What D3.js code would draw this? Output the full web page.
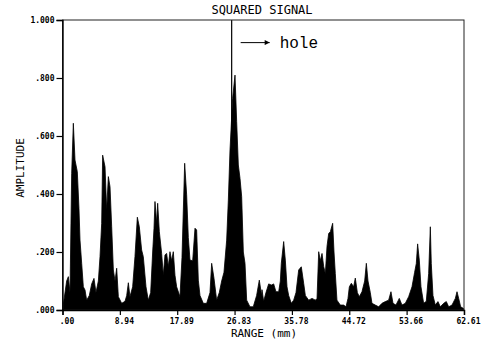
<!DOCTYPE html>
<html>
<head>
<meta charset="utf-8">
<script src="https://cdn.jsdelivr.net/npm/d3@7"></script>
<style>
  body { margin: 0; background: #fff; }
</style>
</head>
<body>
<div id="chart"></div>
<script>
var range = [0.13, 0.65, 0.91, 1.17, 1.43, 1.69, 1.95, 2.31, 2.57, 2.73, 2.99, 3.25, 3.51, 3.77, 4.18, 4.55,
    4.91, 5.22, 5.59, 5.85, 6.11, 6.26, 6.63, 6.89, 7.15, 7.41, 7.67, 7.93, 8.19, 8.45, 8.71, 9.23,
    9.75, 10.01, 10.27, 10.52, 10.94, 11.30, 11.67, 11.98, 12.34, 12.60, 13.02, 13.38, 13.75, 14.06, 14.27, 14.42,
    14.68, 14.84, 15.10, 15.46, 15.72, 15.98, 16.24, 16.50, 16.76, 17.02, 17.28, 17.54, 17.80, 18.32, 18.63, 19.05,
    19.36, 19.62, 19.88, 20.30, 20.66, 20.92, 21.18, 21.44, 21.96, 22.48, 23.00, 23.26, 23.62, 24.04, 24.45, 24.82,
    25.18, 25.60, 25.86, 26.12, 26.53, 26.90, 27.16, 27.42, 27.68, 27.94, 28.20, 28.46, 28.72, 29.23, 29.75, 30.27,
    30.69, 31.05, 31.11, 31.37, 31.73, 32.15, 32.57, 32.93, 33.29, 33.71, 33.97, 34.12, 34.49, 34.75, 35.01, 35.27,
    35.68, 36.05, 36.41, 36.83, 37.24, 37.61, 37.87, 38.39, 38.91, 39.43, 39.69, 39.95, 40.21, 40.47, 40.73, 40.99,
    41.25, 41.51, 41.77, 42.13, 42.34, 42.54, 42.80, 43.32, 43.84, 44.21, 44.52, 44.73, 45.04, 45.40, 45.66, 45.98,
    46.29, 46.70, 47.12, 47.38, 47.64, 48.00, 48.26, 48.78, 49.30, 49.82, 50.34, 50.86, 51.22, 51.54, 52.00, 52.52,
    52.94, 53.46, 53.98, 54.50, 54.91, 55.17, 55.38, 55.64, 55.90, 56.32, 56.73, 57.10, 57.36, 57.51, 57.77, 58.14,
    58.55, 58.92, 59.44, 59.85, 60.22, 60.74, 61.26, 61.52, 61.78, 62.09, 62.55];

var amplitude = [0.02, 0.10, 0.115, 0.06, 0.47, 0.644, 0.517, 0.477, 0.35, 0.241, 0.161, 0.080, 0.069, 0.034, 0.05, 0.09,
    0.109, 0.06, 0.10, 0.184, 0.299, 0.534, 0.494, 0.345, 0.460, 0.425, 0.287, 0.138, 0.10, 0.144, 0.046, 0.023,
    0.03, 0.05, 0.094, 0.046, 0.08, 0.184, 0.320, 0.287, 0.207, 0.184, 0.08, 0.034, 0.06, 0.20, 0.282, 0.374,
    0.30, 0.368, 0.270, 0.195, 0.12, 0.190, 0.195, 0.15, 0.201, 0.17, 0.201, 0.12, 0.08, 0.046, 0.18, 0.506,
    0.397, 0.25, 0.172, 0.17, 0.282, 0.276, 0.103, 0.05, 0.023, 0.023, 0.06, 0.161, 0.11, 0.034, 0.06, 0.10,
    0.13, 0.241, 0.379, 0.552, 0.73, 0.81, 0.65, 0.50, 0.454, 0.391, 0.20, 0.161, 0.034, 0.011, 0.011, 0.05,
    0.103, 0.05, 0.07, 0.03, 0.06, 0.09, 0.086, 0.09, 0.063, 0.063, 0.10, 0.161, 0.236, 0.172, 0.08, 0.05,
    0.023, 0.034, 0.06, 0.138, 0.149, 0.092, 0.05, 0.034, 0.04, 0.034, 0.04, 0.201, 0.17, 0.195, 0.15, 0.126,
    0.22, 0.264, 0.27, 0.299, 0.20, 0.126, 0.034, 0.017, 0.017, 0.011, 0.04, 0.08, 0.092, 0.08, 0.11, 0.06,
    0.046, 0.063, 0.10, 0.161, 0.10, 0.06, 0.023, 0.017, 0.011, 0.023, 0.029, 0.034, 0.063, 0.023, 0.017, 0.04,
    0.017, 0.023, 0.046, 0.08, 0.13, 0.16, 0.228, 0.172, 0.08, 0.023, 0.03, 0.126, 0.287, 0.16, 0.05, 0.017,
    0.029, 0.011, 0.023, 0.029, 0.011, 0.017, 0.04, 0.063, 0.04, 0.011, 0.005];

var xTicks = [0, 8.944, 17.887, 26.831, 35.774, 44.718, 53.661, 62.605];
var xTickLabels = [".00", "8.94", "17.89", "26.83", "35.78", "44.72", "53.66", "62.61"];
var yTicks = [0, 0.2, 0.4, 0.6, 0.8, 1.0];
var yTickLabels = [".000", ".200", ".400", ".600", ".800", "1.000"];

var holeRange = 26.38;

var W = 484, H = 345;
var margin = { left: 62.5, top: 20, right: 20, bottom: 35 };
var width = W - margin.left - margin.right;
var height = H - margin.top - margin.bottom;

var svg = d3.select("#chart").append("svg")
    .attr("width", W)
    .attr("height", H);

var g = svg.append("g")
    .attr("transform", "translate(" + margin.left + "," + margin.top + ")");

var x = d3.scaleLinear().domain([0, 62.61]).range([0, width]);
var y = d3.scaleLinear().domain([0, 1]).range([height, 0]);

var data = range.map(function (r, i) { return { r: r, a: amplitude[i] }; });

// signal
var area = d3.area()
    .x(function (d) { return x(d.r); })
    .y0(y(0))
    .y1(function (d) { return y(d.a); });

g.append("path")
    .datum(data)
    .attr("d", area)
    .style("fill", "#000")
    .style("stroke", "#000")
    .style("stroke-width", 0.8);

// hole marker
g.append("line")
    .attr("x1", x(holeRange)).attr("x2", x(holeRange))
    .attr("y1", y(1)).attr("y2", y(0.55))
    .style("stroke", "#000")
    .style("stroke-width", 1.2);

// frame
g.append("rect")
    .attr("x", 0).attr("y", 0)
    .attr("width", width).attr("height", height)
    .style("fill", "none")
    .style("stroke", "#222")
    .style("stroke-width", 1);

// axes
var xAxis = d3.axisBottom(x)
    .tickValues(xTicks)
    .tickSize(5)
    .tickFormat(function (d, i) { return xTickLabels[i]; });

var yAxis = d3.axisLeft(y)
    .tickValues(yTicks)
    .tickSize(6)
    .tickFormat(function (d, i) { return yTickLabels[i]; });

var gx = g.append("g")
    .attr("transform", "translate(0," + height + ")")
    .call(xAxis);
gx.selectAll("text")
    .attr("dx", 4)
    .attr("y", 8);

var gy = g.append("g").call(yAxis);
gy.selectAll("text").attr("x", -8);

g.selectAll(".domain").style("stroke", "#000").style("stroke-width", 1.4);
g.selectAll(".tick line").style("stroke", "#000").style("stroke-width", 1.2);
g.selectAll(".tick text")
    .style("font-family", "DejaVu Sans Mono")
    .style("font-weight", "bold")
    .style("font-size", "8px")
    .style("fill", "#000");

// titles
svg.append("text")
    .attr("x", 262).attr("y", 14)
    .attr("text-anchor", "middle")
    .style("font-family", "DejaVu Sans Mono")
    .style("font-size", "12px")
    .text("SQUARED SIGNAL");

svg.append("text")
    .attr("x", 264).attr("y", 337)
    .attr("text-anchor", "middle")
    .style("font-family", "DejaVu Sans Mono")
    .style("font-size", "11px")
    .text("RANGE (mm)");

svg.append("text")
    .attr("transform", "translate(24,168) rotate(-90)")
    .attr("text-anchor", "middle")
    .style("font-family", "DejaVu Sans Mono")
    .style("font-size", "11px")
    .text("AMPLITUDE");

// hole annotation
svg.append("defs").append("marker")
    .attr("id", "arrow")
    .attr("viewBox", "0 0 10 10")
    .attr("refX", 10).attr("refY", 5)
    .attr("markerWidth", 8).attr("markerHeight", 5)
    .attr("markerUnits", "userSpaceOnUse")
    .attr("orient", "auto")
    .append("path")
    .attr("d", "M0,0 L10,5 L0,10 Z")
    .style("fill", "#000");

g.append("line")
    .attr("x1", x(holeRange) + 9).attr("x2", x(holeRange) + 38)
    .attr("y1", y(0.922)).attr("y2", y(0.922))
    .attr("marker-end", "url(#arrow)")
    .style("stroke", "#000")
    .style("stroke-width", 1);

g.append("text")
    .attr("x", x(holeRange) + 48).attr("y", y(0.905))
    .style("font-family", "Liberation Mono")
    .style("font-size", "16px")
    .text("hole");
</script>
</body>
</html>
